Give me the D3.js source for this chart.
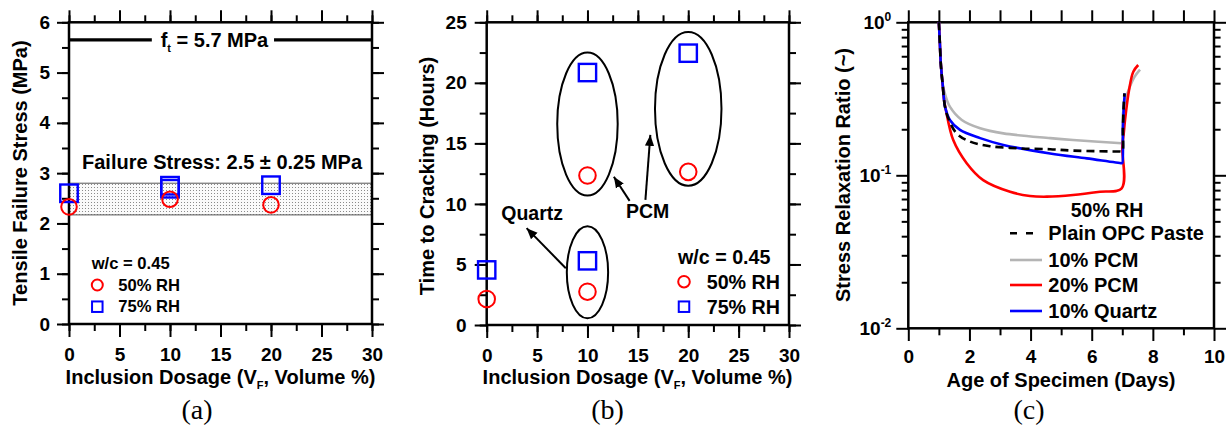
<!DOCTYPE html>
<html><head><meta charset="utf-8">
<script src="https://cdn.jsdelivr.net/npm/d3@7"></script>
<style>
body{margin:0;background:#fff;}
svg text{font-family:"Liberation Sans",Arial,sans-serif;font-weight:bold;fill:#000;}
svg text.cap{font-family:"Liberation Serif","Times New Roman",serif;font-weight:normal;}
</style></head><body>
<svg id="chart" width="1231" height="430"></svg>
<script>
// ---------------- DATA ----------------
// Panel (a): tensile failure stress
const aRH50x = [0, 10, 20];
const aRH50y = [2.33, 2.48, 2.37];
const aRH75x = [0, 10, 10, 20];
const aRH75y = [2.60, 2.75, 2.69, 2.76];
const ftValue = 5.65;
const bandLow = 2.17, bandHigh = 2.80;
// Panel (b): time to cracking
const bRH50x = [0, 10, 10, 20];
const bRH50y = [2.15, 2.75, 12.35, 12.65];
const bRH75x = [0, 10, 10, 20];
const bRH75y = [4.55, 5.3, 20.85, 22.45];
const ellCx = [10, 20, 10], ellCy = [16.6, 17.85, 4.35], ellRx = [3.0, 3.3, 2.05], ellRy = [5.9, 6.35, 3.8];
// Panel (c): stress relaxation ratio
const opcDays  = [1.0, 1.03, 1.06, 1.09, 1.12, 1.17, 1.2, 1.31, 1.58, 2.02, 2.67, 3.65, 4.64, 5.39, 6.93, 7.0, 7.02, 7.05, 7.07];
const opcRatio = [1.0, 0.75, 0.55, 0.46, 0.40, 0.31, 0.281, 0.235, 0.188, 0.166, 0.155, 0.150, 0.148, 0.145, 0.143, 0.143, 0.2, 0.3, 0.343];
const pcm10Days  = [1.0, 1.03, 1.06, 1.09, 1.12, 1.2, 1.36, 1.75, 2.35, 3.11, 4.64, 5.39, 6.98, 7.0, 7.02, 7.1, 7.25, 7.4, 7.58];
const pcm10Ratio = [1.0, 0.75, 0.55, 0.46, 0.40, 0.34, 0.281, 0.23, 0.203, 0.188, 0.175, 0.170, 0.162, 0.162, 0.25, 0.31, 0.38, 0.44, 0.49];
const pcm20Days  = [1.0, 1.03, 1.06, 1.09, 1.12, 1.17, 1.23, 1.47, 1.91, 2.45, 3.33, 3.98, 4.53, 5.39, 6.27, 6.98, 7.0, 7.05, 7.09, 7.22, 7.36, 7.52];
const pcm20Ratio = [1.0, 0.75, 0.55, 0.46, 0.40, 0.31, 0.267, 0.17, 0.12, 0.093, 0.078, 0.0732, 0.0725, 0.0743, 0.0781, 0.0822, 0.154, 0.19, 0.23, 0.36, 0.475, 0.526];
const qtzDays  = [1.0, 1.03, 1.06, 1.09, 1.12, 1.17, 1.2, 1.36, 1.69, 2.35, 3.11, 4.64, 5.84, 6.98, 7.0, 7.02, 7.05, 7.08];
const qtzRatio = [1.0, 0.75, 0.55, 0.46, 0.40, 0.31, 0.281, 0.23, 0.198, 0.175, 0.158, 0.139, 0.129, 0.12, 0.12, 0.2, 0.28, 0.343];
const cSeriesNames = ["Plain OPC Paste", "10% PCM", "20% PCM", "10% Quartz"];
// Tick labels
const xTicksAB = [0, 5, 10, 15, 20, 25, 30];
const yTicksA = [0, 1, 2, 3, 4, 5, 6];
const yTicksB = [0, 5, 10, 15, 20, 25];
const xTicksC = [0, 2, 4, 6, 8, 10];
const yTicksC = [0.01, 0.1, 1];
const yTickExpC = ["-2", "-1", "0"];
const captions = ["(a)", "(b)", "(c)"];

// ---------------- DRAW ----------------
const svg = d3.select("#chart");
const FS_TICK = 19, FS_TITLE = 20;

const defs = svg.append("defs");
const pat = defs.append("pattern").attr("id", "dots").attr("width", 3).attr("height", 3).attr("patternUnits", "userSpaceOnUse");
pat.append("rect").attr("width", 3).attr("height", 3).attr("fill", "#fafafa");
pat.append("rect").attr("x", 1).attr("y", 1).attr("width", 1).attr("height", 1).attr("fill", "#8a8a8a");
defs.append("marker").attr("id", "ah").attr("viewBox", "0 0 10 10").attr("refX", 10).attr("refY", 5)
  .attr("markerWidth", 11).attr("markerHeight", 11).attr("markerUnits", "userSpaceOnUse").attr("orient", "auto")
  .append("path").attr("d", "M0,0.8 L10,5 L0,9.2 Z").attr("fill", "#000");

function styleAxis(g) {
  g.select(".domain").remove();
  g.selectAll(".tick line").attr("stroke", "#000").attr("stroke-width", 2);
  g.selectAll(".tick text").attr("font-size", FS_TICK).attr("fill", "#000")
    .style("font-family", '"Liberation Sans",Arial,sans-serif').style("font-weight", "bold");
}

function frame(x, y) {
  const [x0, x1] = x.range(), [y0, y1] = y.range();
  return svg.append("rect").attr("x", x0).attr("y", y1).attr("width", x1 - x0).attr("height", y0 - y1)
    .attr("fill", "none").attr("stroke", "#000").attr("stroke-width", 2.5);
}

function linAxes(x, y, xMajor, xMinor, yMajor, yMinor, pads) {
  const [x0, x1] = x.range(), [y0, y1] = y.range();
  svg.append("g").attr("transform", `translate(0,${y0})`).call(d3.axisBottom(x).tickValues(xMinor).tickSize(7).tickFormat("")).call(styleAxis);
  svg.append("g").attr("transform", `translate(0,${y0})`).call(d3.axisBottom(x).tickValues(xMajor).tickSize(13).tickPadding(pads.xb).tickFormat(d3.format("d"))).call(styleAxis);
  svg.append("g").attr("transform", `translate(0,${y1})`).call(d3.axisTop(x).tickValues(xMinor).tickSize(7).tickFormat("")).call(styleAxis);
  svg.append("g").attr("transform", `translate(0,${y1})`).call(d3.axisTop(x).tickValues(xMajor).tickSize(12).tickFormat("")).call(styleAxis);
  svg.append("g").attr("transform", `translate(${x0},0)`).call(d3.axisLeft(y).tickValues(yMinor).tickSize(7).tickFormat("")).call(styleAxis);
  svg.append("g").attr("transform", `translate(${x0},0)`).call(d3.axisLeft(y).tickValues(yMajor).tickSize(12).tickPadding(pads.yl).tickFormat(d3.format("d"))).call(styleAxis);
  svg.append("g").attr("transform", `translate(${x1},0)`).call(d3.axisRight(y).tickValues(yMinor).tickSize(7).tickFormat("")).call(styleAxis);
  svg.append("g").attr("transform", `translate(${x1},0)`).call(d3.axisRight(y).tickValues(yMajor).tickSize(12).tickFormat("")).call(styleAxis);
}

function xTitle(cx, y) {
  const t = svg.append("text").attr("x", cx).attr("y", y).attr("text-anchor", "middle").attr("font-size", FS_TITLE);
  t.append("tspan").text("Inclusion Dosage (V");
  t.append("tspan").attr("font-size", 11).attr("dy", 5).text("F");
  t.append("tspan").attr("dy", -5).text(", Volume %)");
}
function yTitle(cx, cy, txt) {
  svg.append("text").attr("transform", `translate(${cx},${cy}) rotate(-90)`).attr("text-anchor", "middle")
    .attr("dominant-baseline", "central").attr("font-size", FS_TITLE).text(txt);
}
function circles(g, x, y, xs, ys, r) {
  g.selectAll(null).data(xs.map((d, i) => [d, ys[i]])).join("circle")
    .attr("cx", d => x(d[0])).attr("cy", d => y(d[1])).attr("r", r)
    .attr("fill", "none").attr("stroke", "#ff0000").attr("stroke-width", 2);
}
function squares(g, x, y, xs, ys, s) {
  g.selectAll(null).data(xs.map((d, i) => [d, ys[i]])).join("rect")
    .attr("x", d => x(d[0]) - s / 2).attr("y", d => y(d[1]) - s / 2).attr("width", s).attr("height", s)
    .attr("fill", "none").attr("stroke", "#0000ff").attr("stroke-width", 2.4);
}
function legendRH(lx, ly, fs, mr, ms, tx) {
  svg.append("text").attr("x", lx).attr("y", ly).attr("dominant-baseline", "central").attr("font-size", fs).text("w/c = 0.45");
  svg.append("circle").attr("cx", lx + mr.dx).attr("cy", ly + mr.dy1).attr("r", mr.r).attr("fill", "none").attr("stroke", "#ff0000").attr("stroke-width", 2);
  svg.append("rect").attr("x", lx + mr.dx - ms / 2).attr("y", ly + mr.dy2 - ms / 2).attr("width", ms).attr("height", ms).attr("fill", "none").attr("stroke", "#0000ff").attr("stroke-width", 2);
  svg.append("text").attr("x", tx).attr("y", ly + mr.dy1).attr("dominant-baseline", "central").attr("font-size", fs).text("50% RH");
  svg.append("text").attr("x", tx).attr("y", ly + mr.dy2).attr("dominant-baseline", "central").attr("font-size", fs).text("75% RH");
}

// ===== Panel (a) =====
{
  const x = d3.scaleLinear().domain([0, 30]).range([69, 372]);
  const y = d3.scaleLinear().domain([0, 6]).range([324, 22.3]);
  svg.append("rect").attr("x", x(0)).attr("y", y(bandHigh)).attr("width", x(30) - x(0)).attr("height", y(bandLow) - y(bandHigh))
    .attr("fill", "url(#dots)").attr("stroke", "#555").attr("stroke-width", 1);
  svg.append("line").attr("x1", x(0)).attr("x2", x(30)).attr("y1", y(ftValue)).attr("y2", y(ftValue)).attr("stroke", "#000").attr("stroke-width", 3.2);
  svg.append("rect").attr("x", x(8.2)).attr("y", y(ftValue) - 12).attr("width", x(20.3) - x(8.2)).attr("height", 24).attr("fill", "#fff");
  const ft = svg.append("text").attr("x", x(14.4)).attr("y", y(ftValue) + 7).attr("text-anchor", "middle").attr("font-size", 20);
  ft.append("tspan").text("f");
  ft.append("tspan").attr("font-size", 11).attr("dy", 5).text("t");
  ft.append("tspan").attr("dy", -5).text(" = 5.7 MPa");
  svg.append("text").attr("x", x(15.15)).attr("y", y(3.22)).attr("text-anchor", "middle").attr("dominant-baseline", "central")
    .attr("font-size", 20).text("Failure Stress: 2.5 \u00B1 0.25 MPa");
  linAxes(x, y, xTicksAB, d3.range(0, 30.1, 2.5), yTicksA, d3.range(0, 6.01, 0.5), { xb: 11, yl: 7 });
  frame(x, y);
  const g = svg.append("g");
  squares(g, x, y, aRH75x, aRH75y, 17.5);
  circles(g, x, y, aRH50x, aRH50y, 7.8);
  legendRH(91.7, 263.3, 16.6, { dx: 5.6, dy1: 21.7, dy2: 43.4, r: 5.5 }, 10.5, 118.3);
  xTitle(220.5, 383.5);
  yTitle(20, 173, "Tensile Failure Stress (MPa)");
  svg.append("text").attr("class", "cap").attr("x", 197).attr("y", 419).attr("text-anchor", "middle").attr("font-size", 28).text(captions[0]);
}

// ===== Panel (b) =====
{
  const x = d3.scaleLinear().domain([0, 30]).range([486.7, 789]);
  const y = d3.scaleLinear().domain([0, 25]).range([325, 22.3]);
  linAxes(x, y, xTicksAB, d3.range(0, 30.1, 2.5), yTicksB, d3.range(0, 25.1, 2.5), { xb: 11, yl: 8 });
  frame(x, y);
  const g = svg.append("g");
  g.selectAll(null).data(ellCx.map((d, i) => i)).join("ellipse")
    .attr("cx", i => x(ellCx[i])).attr("cy", i => y(ellCy[i]))
    .attr("rx", i => x(ellRx[i]) - x(0)).attr("ry", i => y(0) - y(ellRy[i]))
    .attr("fill", "none").attr("stroke", "#000").attr("stroke-width", 2);
  squares(g, x, y, bRH75x, bRH75y, 17.3);
  circles(g, x, y, bRH50x, bRH50y, 8.3);
  const arrows = [[14.18, 10.25, 12.62, 12.25], [15.75, 10.33, 16.24, 15.7], [7.85, 4.69, 3.96, 8.0]];
  arrows.forEach(a => svg.append("line").attr("x1", x(a[0])).attr("y1", y(a[1])).attr("x2", x(a[2])).attr("y2", y(a[3]))
    .attr("stroke", "#000").attr("stroke-width", 2).attr("marker-end", "url(#ah)"));
  svg.append("text").attr("x", x(15.97)).attr("y", y(9.42)).attr("text-anchor", "middle").attr("dominant-baseline", "central").attr("font-size", 19.5).text("PCM");
  svg.append("text").attr("x", x(4.51)).attr("y", y(9.26)).attr("text-anchor", "middle").attr("dominant-baseline", "central").attr("font-size", 19.5).text("Quartz");
  legendRH(678, 256.7, 19.7, { dx: 6, dy1: 25, dy2: 50, r: 5.8 }, 10.5, 706.7);
  xTitle(637.5, 383.5);
  yTitle(427, 176, "Time to Cracking (Hours)");
  svg.append("text").attr("class", "cap").attr("x", 607.5).attr("y", 419).attr("text-anchor", "middle").attr("font-size", 28).text(captions[1]);
}

// ===== Panel (c) =====
{
  const x = d3.scaleLinear().domain([0, 10]).range([908.3, 1214]);
  const y = d3.scaleLog().domain([0.01, 1]).range([328.3, 22.3]);
  const [x0, x1] = x.range(), [y0, y1] = y.range();
  const yMinor = [];
  [0.01, 0.1].forEach(dec => { for (let k = 2; k <= 9; k++) yMinor.push(dec * k); });
  svg.append("g").attr("transform", `translate(0,${y0})`).call(d3.axisBottom(x).tickValues(d3.range(1, 10, 2)).tickSize(7).tickFormat("")).call(styleAxis);
  svg.append("g").attr("transform", `translate(0,${y0})`).call(d3.axisBottom(x).tickValues(xTicksC).tickSize(12.7).tickPadding(9).tickFormat(d3.format("d"))).call(styleAxis);
  svg.append("g").attr("transform", `translate(0,${y1})`).call(d3.axisTop(x).tickValues(d3.range(0, 10.1, 1)).tickSize(12).tickFormat("")).call(styleAxis);
  svg.append("g").attr("transform", `translate(${x0},0)`).call(d3.axisLeft(y).tickValues(yMinor).tickSize(6.6).tickFormat("")).call(styleAxis);
  svg.append("g").attr("transform", `translate(${x0},0)`).call(d3.axisLeft(y).tickValues(yTicksC).tickSize(12).tickFormat("")).call(styleAxis);
  svg.append("g").attr("transform", `translate(${x1},0)`).call(d3.axisRight(y).tickValues(yMinor).tickSize(6.6).tickFormat("")).call(styleAxis);
  svg.append("g").attr("transform", `translate(${x1},0)`).call(d3.axisRight(y).tickValues(yTicksC).tickSize(12).tickFormat("")).call(styleAxis);
  yTicksC.forEach((v, i) => {
    const t = svg.append("text").attr("x", x0 - 17).attr("y", y(v) + 7).attr("text-anchor", "end").attr("font-size", FS_TICK);
    t.append("tspan").text("10");
    t.append("tspan").attr("font-size", 12).attr("dy", -8).text(yTickExpC[i]);
  });
  frame(x, y);
  const line = d3.line().x(d => x(d[0])).y(d => y(d[1])).curve(d3.curveCatmullRom.alpha(0.5));
  const series = [
    { days: pcm10Days, ratio: pcm10Ratio, color: "#b4b4b4", dash: null },
    { days: pcm20Days, ratio: pcm20Ratio, color: "#ff0000", dash: null },
    { days: qtzDays, ratio: qtzRatio, color: "#0000ff", dash: null },
    { days: opcDays, ratio: opcRatio, color: "#000", dash: "8,5" }
  ];
  series.forEach(s => {
    svg.append("path").datum(s.days.map((d, i) => [d, s.ratio[i]])).attr("d", line)
      .attr("fill", "none").attr("stroke", s.color).attr("stroke-width", 2.6).attr("stroke-dasharray", s.dash);
  });
  svg.append("text").attr("x", 1107).attr("y", 210).attr("text-anchor", "middle").attr("dominant-baseline", "central").attr("font-size", 19.5).text("50% RH");
  const legRows = [233.3, 260, 285, 311];
  const legCol = ["#000", "#b4b4b4", "#ff0000", "#0000ff"];
  cSeriesNames.forEach((n, i) => {
    if (i === 0) {
      svg.append("line").attr("x1", 1010).attr("x2", 1034).attr("y1", legRows[i]).attr("y2", legRows[i])
        .attr("stroke", "#000").attr("stroke-width", 2.6).attr("stroke-dasharray", "7,9");
    } else {
      svg.append("line").attr("x1", 1010).attr("x2", 1042).attr("y1", legRows[i]).attr("y2", legRows[i])
        .attr("stroke", legCol[i]).attr("stroke-width", 2.6);
    }
    svg.append("text").attr("x", 1048.3).attr("y", legRows[i]).attr("dominant-baseline", "central").attr("font-size", 20).text(n);
  });
  svg.append("text").attr("x", 1061).attr("y", 386.5).attr("text-anchor", "middle").attr("font-size", FS_TITLE).text("Age of Specimen (Days)");
  yTitle(843, 175, "Stress Relaxation Ratio (~)");
  svg.append("text").attr("class", "cap").attr("x", 1029).attr("y", 419).attr("text-anchor", "middle").attr("font-size", 28).text(captions[2]);
}
</script></body></html>
